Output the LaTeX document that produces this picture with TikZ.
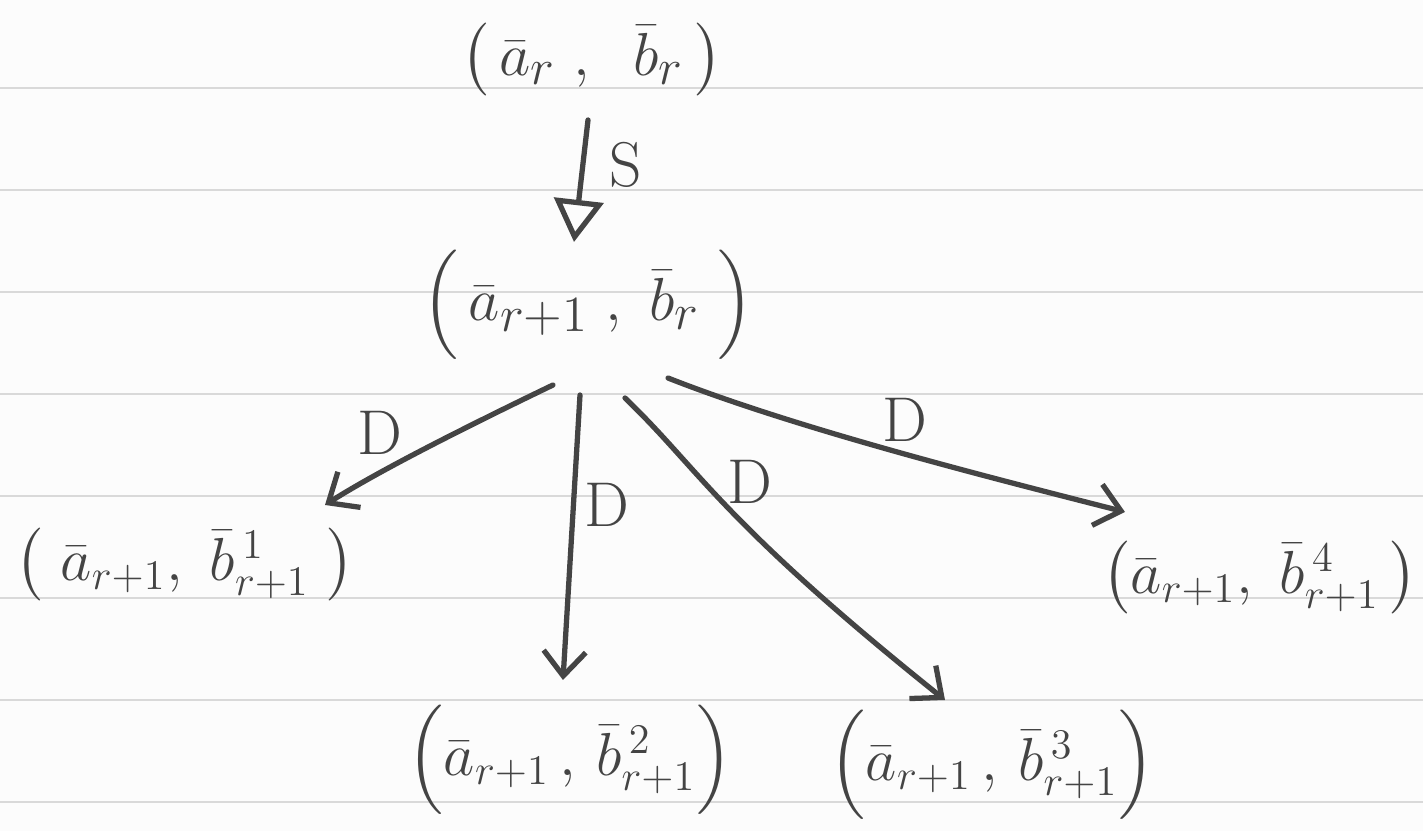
\documentclass[tikz,border=0pt]{standalone}
\usepackage{amsmath}
\usetikzlibrary{arrows.meta}
\definecolor{ink}{HTML}{444444}
\definecolor{rule}{HTML}{D9D9D9}
\definecolor{paper}{HTML}{FCFCFC}
\begin{document}
\begin{tikzpicture}[x=0.01cm,y=-0.01cm,
  lbl/.style={text=ink,font=\fontsize{19}{23}\selectfont,inner sep=0pt},
  sml/.style={text=ink,font=\fontsize{17.5}{21}\selectfont,inner sep=0pt},
  dlbl/.style={text=ink,font=\fontsize{18}{22}\selectfont,inner sep=0pt},
  conn/.style={draw=ink,line width=1.5pt,line cap=round,-{Straight Barb[length=7pt,width=12pt,line width=1.5pt]}}]
\fill[paper] (0,0) rectangle (1423,831);
\useasboundingbox (0,0) rectangle (1423,831);
\foreach \k in {0,...,7}{\draw[rule,line width=0.8pt] (0,88+102*\k) -- (1423,88+102*\k);}
\node[lbl] (top) at (592,60) {$\bigl(\,\bar a_r\;,\;\;\bar b_r\,\bigr)$};
\node[lbl] (mid) at (588,305) {$\Bigl(\,\bar a_{r+1}\;,\;\bar b_r\;\Bigr)$};
\node[sml] (n1) at (185,565) {$\bigl(\;\bar a_{r+1},\;\bar b_{r+1}^{\,1}\;\bigr)$};
\node[sml] (n2) at (570,760) {$\Bigl(\bar a_{r+1}\,,\,\bar b_{r+1}^{\,2}\Bigr)$};
\node[sml] (n3) at (992,765) {$\Bigl(\bar a_{r+1}\,,\,\bar b_{r+1}^{\,3}\Bigr)$};
\node[sml] (n4) at (1260,578) {$\bigl(\bar a_{r+1},\;\bar b_{r+1}^{\,4}\,\bigr)$};
\coordinate (s0) at (588,120);
\coordinate (s1) at (574,242);
\draw[conn,-{Triangle[open,length=12pt,width=14pt,line width=1.5pt]}] (s0) -- (s1);
\node[dlbl] (ls) at (626,165) {S};
\coordinate (d1a) at (553,385);
\coordinate (d1b) at (325,505);
\draw[conn] (d1a) .. controls (470,425) and (380,470) .. (d1b);
\node[dlbl] (l1) at (380,433) {D};
\coordinate (d2a) at (580,395);
\coordinate (d2b) at (563,680);
\draw[conn] (d2a) -- (d2b);
\node[dlbl] (l2) at (607,505) {D};
\coordinate (d3a) at (625,398);
\coordinate (d3b) at (945,700);
\draw[conn] (d3a) .. controls (700,470) and (720,520) .. (d3b);
\node[dlbl] (l3) at (750,482) {D};
\coordinate (d4a) at (668,378);
\coordinate (d4b) at (1125,512);
\draw[conn] (d4a) .. controls (800,430) and (1000,480) .. (d4b);
\node[dlbl] (l4) at (905,420) {D};
\end{tikzpicture}
\end{document}
